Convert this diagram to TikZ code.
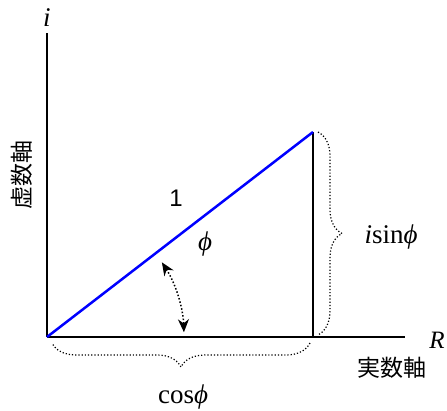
\documentclass[tikz,border=0pt]{standalone}
\usepackage{fontspec}
\setmainfont{Liberation Serif}
\newfontfamily\jpfont{Noto Sans CJK JP}
\newfontfamily\numfont{Liberation Sans}
\usetikzlibrary{arrows.meta, positioning, decorations.pathreplacing, calc}

\begin{document}
\begin{tikzpicture}[
    x=1pt, y=1pt,
    axis/.style={line width=2.2pt, draw=black},
    vec/.style={line width=2.5pt, draw=blue},
    brc/.style={decorate, decoration={brace, amplitude=24pt}, dotted, line width=1.2pt},
    lbl/.style={font=\fontsize{27}{31}\selectfont, inner sep=0pt},
    jp/.style={font=\jpfont\fontsize{23}{27}\selectfont, inner sep=0pt},
    angarrow/.style={{Stealth[length=13pt, width=11pt]}-{Stealth[length=13pt, width=11pt]},
                     dotted, line width=1.5pt}
]
\useasboundingbox (-47,-73) rectangle (400,337);
\coordinate (O) at (0,0);
\coordinate (P) at (266,205);
\coordinate (Q) at (266,0);
\coordinate (xend) at (358,0);
\coordinate (yend) at (0,304);

\draw[axis] (O) -- (xend);
\draw[axis] (O) -- (yend);
\draw[axis] (Q) -- (P);
\draw[vec]  (O) -- (P);

\node[lbl] (imag) at (0,319) {\textit{i}};
\node[lbl, font=\fontsize{25}{29}\selectfont] (real) at (390,-3) {\textit{R}};
\node[jp] (reax) at (345,-31) {実数軸};
\node[jp, rotate=90] (imax) at (-25,162) {虚数軸};
\node[font=\numfont\fontsize{24}{28}\selectfont, inner sep=0pt] (one) at (129,139) {1};
\node[lbl] (ang) at (158,93) {\textit{ϕ}};
\node[lbl] (sinlbl) at (344,100) {\textit{i}sin\textit{ϕ}};
\node[lbl] (coslbl) at (136,-60) {cos\textit{ϕ}};

\draw[brc] ($(P)+(5,0)$) -- ($(Q)+(5,2)$);
\draw[brc] ($(Q)+(-3,-6)$) -- ($(O)+(5,-6)$);
\draw[angarrow] ($(O)+(33:137)$) arc[start angle=33, end angle=2, radius=137];
\end{tikzpicture}
\end{document}
